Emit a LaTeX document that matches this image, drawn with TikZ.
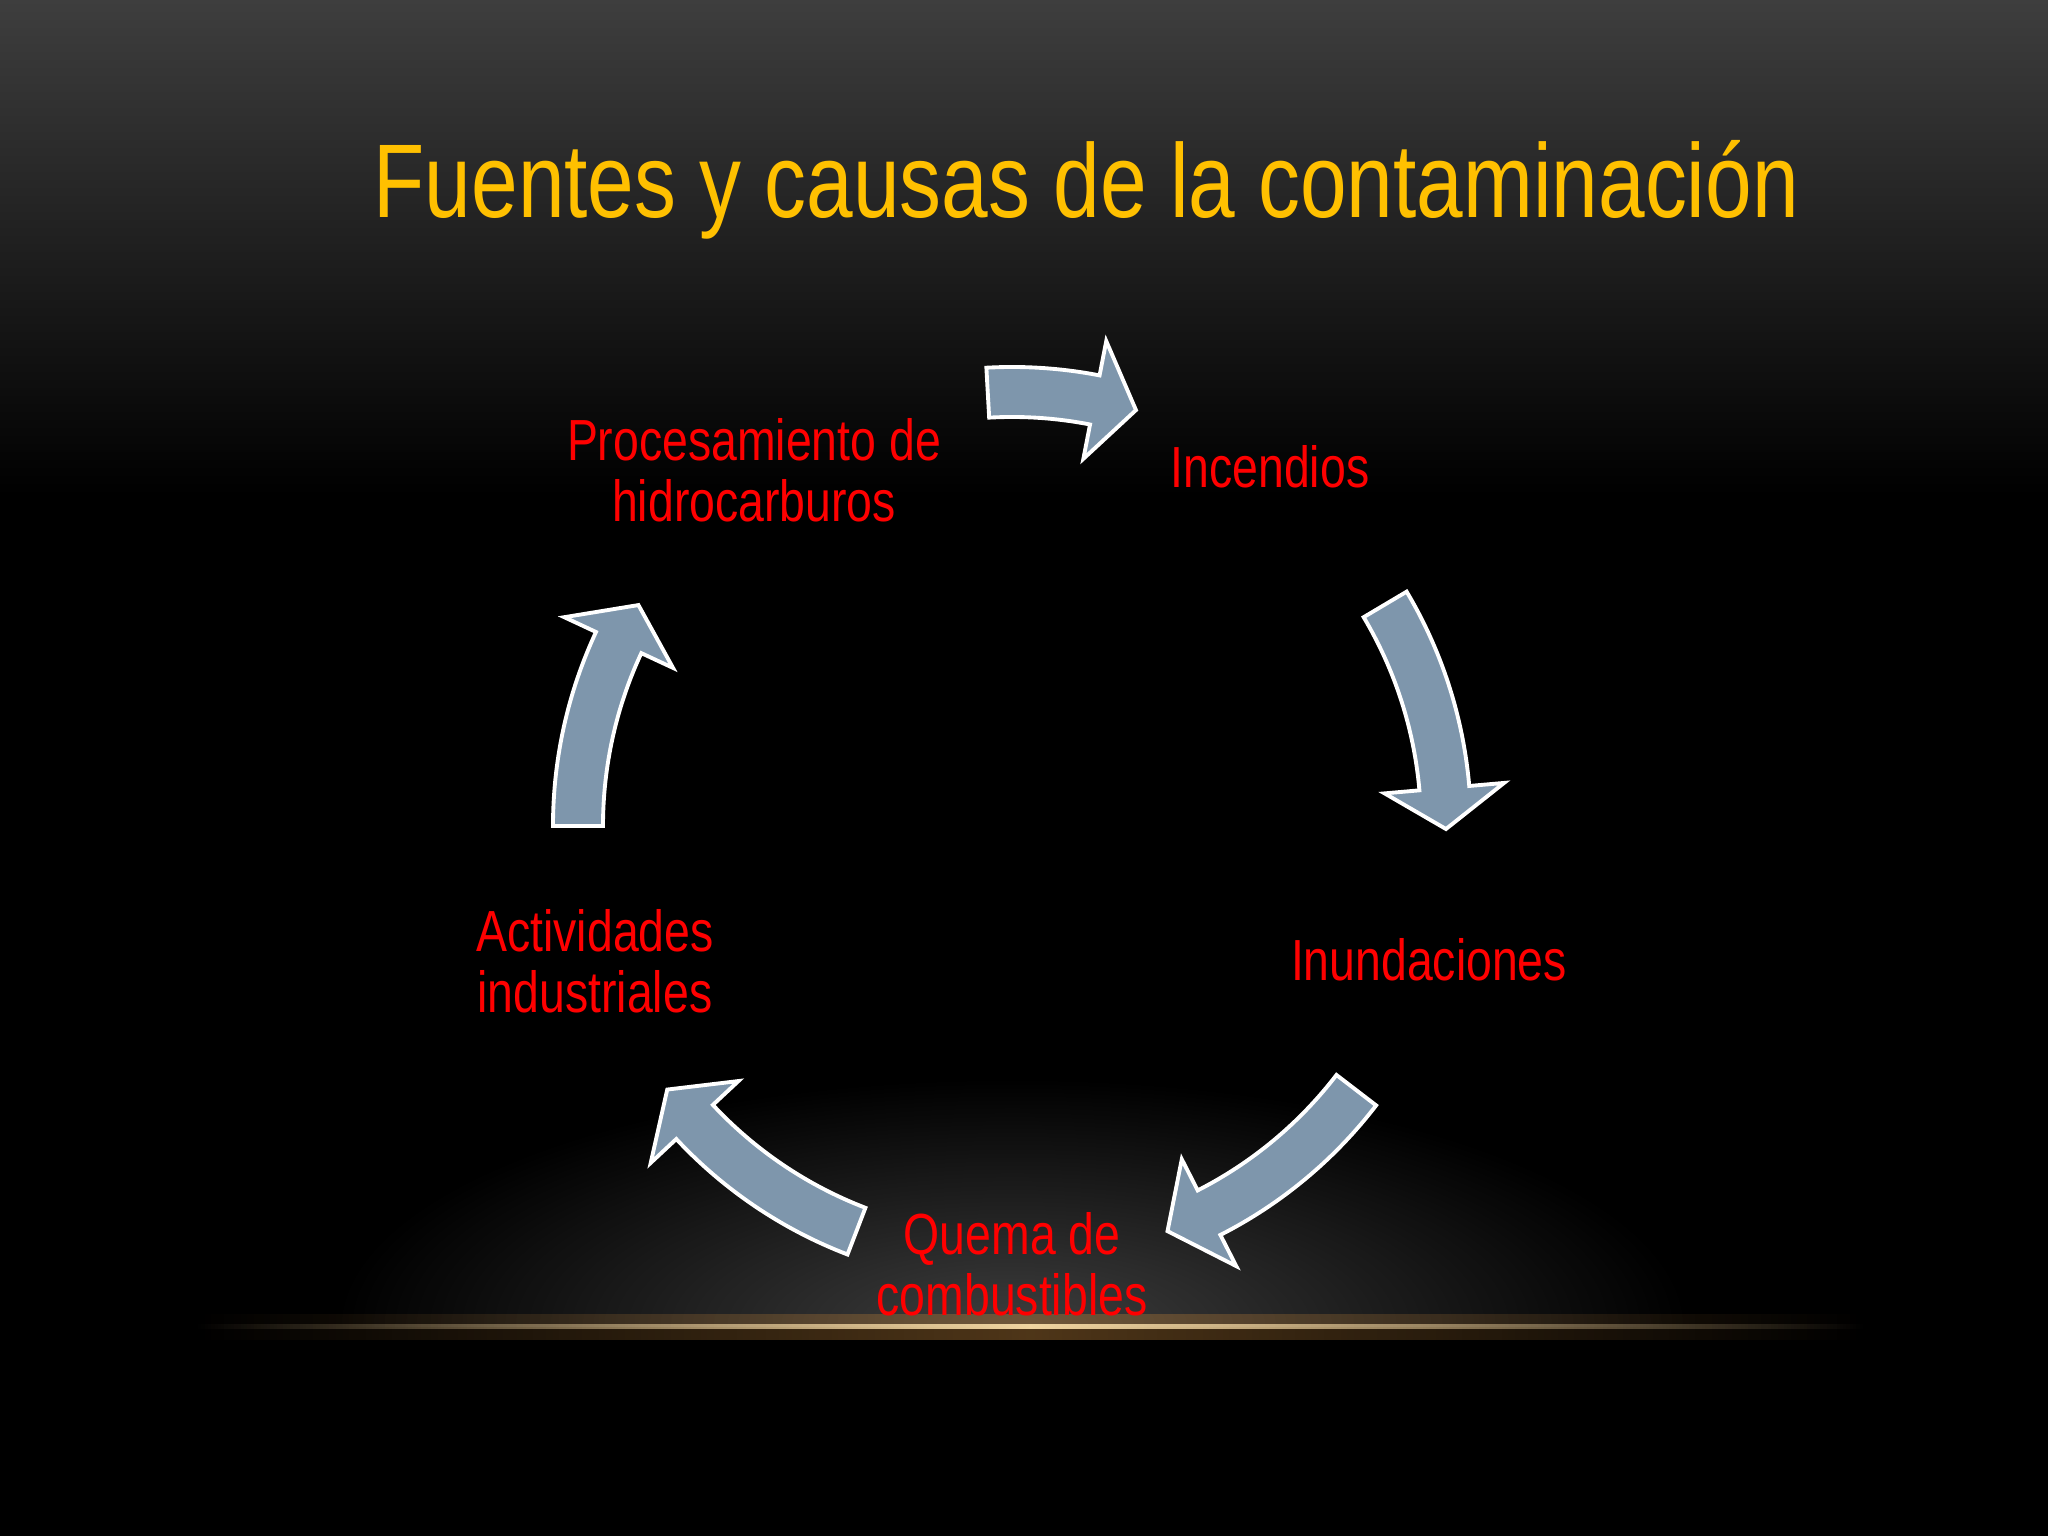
\documentclass[tikz,border=0pt]{standalone}
\usepackage{fontspec}
\setmainfont{Liberation Sans}[FakeStretch=0.8]
\usetikzlibrary{fadings}

\definecolor{titlegold}{RGB}{255,192,0}
\definecolor{causered}{RGB}{255,0,0}
\definecolor{arrowblue}{RGB}{126,150,172}
\definecolor{topgray}{RGB}{62,62,62}
\definecolor{glowgray}{RGB}{62,62,62}
\definecolor{linetan}{RGB}{240,212,160}
\definecolor{linebrown}{RGB}{175,120,55}

\tikzfading[name=fade sides, left color=transparent!100, right color=transparent!100, middle color=transparent!0]
\tikzfading[name=soft glow, inner color=transparent!0, outer color=transparent!100]

\begin{document}
\begin{tikzpicture}[
    causa/.style = {text=causered, font=\fontsize{16.5}{17.4}\selectfont, align=center, inner sep=0pt},
    cycarrow/.style = {fill=arrowblue, draw=white, line width=1.1pt}]
    \useasboundingbox (0,0) rectangle (20.48,15.36);

    % background
    \fill[black] (0,0) rectangle (20.48,15.36);
    \shade[top color=topgray, bottom color=black] (0,10.4) rectangle (20.48,15.36);
    \begin{scope}
        \clip (0,2.09) rectangle (20.48,9.7);
        \fill[glowgray, path fading=soft glow] (10.12,2.09) ellipse [x radius=6.8, y radius=2.5];
    \end{scope}
    \fill[linebrown, path fading=fade sides, opacity=.45] (1.96,1.96) rectangle (18.64,2.22);
    \fill[linetan, path fading=fade sides] (1.96,2.065) rectangle (18.64,2.115);

    \node[text=titlegold, font=\fontsize{29.8}{32}\selectfont, anchor=base west, inner sep=0pt] (title) at (3.73,13.18) {Fuentes y causas de la contaminación};

    % cycle arrows
    \coordinate (C) at (10.12,7.10);
    \begin{scope}[shift={(C)}]
        \foreach \tail/\base/\tip in {93.2/79/73.4, 30.7/5/-0.4, -37.5/-63/-69, -111/-137/-142.6, 180/155/149.4}
            \draw[cycarrow] (\tail:4.09) arc[start angle=\tail, end angle=\base, radius=4.09]
                -- (\base:3.74) -- (\tip:4.34) -- (\base:4.94) -- (\base:4.59)
                arc[start angle=\base, end angle=\tail, radius=4.59] -- cycle;
    \end{scope}

    \node[causa, anchor=base] (incendios) at (12.70,10.48) {Incendios};
    \node[causa, anchor=base] (inundaciones) at (14.29,5.55) {Inundaciones};
    \node[causa] (quema) at (10.12,2.72) {Quema de\\combustibles};
    \node[causa] (actividades) at (5.95,5.75) {Actividades\\industriales};
    \node[causa] (procesamiento) at (7.54,10.66) {Procesamiento de\\hidrocarburos};
\end{tikzpicture}
\end{document}
